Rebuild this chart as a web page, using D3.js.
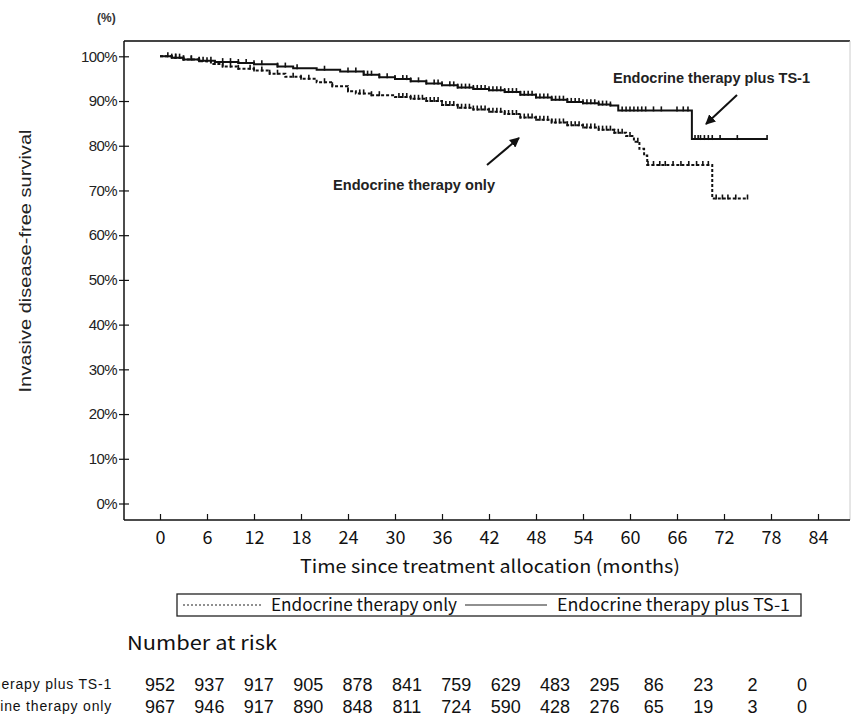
<!DOCTYPE html>
<html lang="en">
<head>
<meta charset="UTF-8">
<title>Invasive disease-free survival</title>
<script src="https://d3js.org/d3.v7.min.js"></script>
<style>
    body { margin: 0; background: #fff; }
    .arial { font-family: "Liberation Sans", Arial, sans-serif; }
    .gothic { font-family: "Noto Sans CJK JP", "Noto Sans", sans-serif; }
</style>
</head>
<body>
<svg width="853" height="720"></svg>
<script>
// Kaplan-Meier steps (months, survival %)
const tsTimes = [0, 1.5, 3, 5, 7, 10, 12, 15, 17, 20, 23, 26, 28, 30, 32, 34, 36, 38, 40, 42, 44, 46, 48, 50, 52, 54, 56, 57.5, 58.5, 67.9];
const tsSurv  = [100, 99.7, 99.3, 99.0, 98.7, 98.5, 98.2, 97.7, 97.3, 97.0, 96.6, 95.9, 95.3, 94.9, 94.4, 93.9, 93.5, 93.0, 92.7, 92.4, 92.0, 91.4, 90.8, 90.3, 89.8, 89.5, 89.2, 89.0, 87.9, 81.5];
const tsEnd = 77.5;

const endoTimes = [0, 1.5, 3, 5, 6.5, 8, 10, 12, 14, 16, 18, 20, 22, 24, 25, 27, 30, 32, 34, 36, 38, 40, 42, 44, 46, 48, 50, 52, 54, 56, 58, 59.5, 60.5, 61.2, 61.8, 62.2, 70.5];
const endoSurv  = [100, 99.7, 99.3, 98.9, 98.3, 97.7, 97.2, 96.8, 96.1, 95.4, 95.0, 94.2, 93.3, 92.2, 91.7, 91.3, 90.9, 90.5, 90.0, 89.1, 88.5, 88.1, 87.6, 87.1, 86.3, 85.8, 85.2, 84.6, 84.1, 83.6, 82.9, 82.2, 80.9, 79.3, 77.8, 75.7, 68.2];
const endoEnd = 75;

// censoring marks (months)
const tsCensor = [1, 1.5, 2, 2.5, 3, 4, 5, 5.5, 6.5, 8, 9, 10, 11, 12, 13, 15, 16, 17.5, 21, 24, 25, 26, 26.5, 27, 28, 29, 30, 31, 31.5, 32, 33, 34, 35, 35.5, 36, 37, 37.5, 38, 38.5, 39, 39.5, 40, 40.5, 41, 41.5, 42, 42.5, 43, 43.5, 44, 44.5, 45, 45.5, 46, 46.5, 47, 47.5, 48, 48.5, 49, 49.5, 50, 50.5, 51, 51.5, 52, 52.5, 53, 53.5, 54, 54.5, 55, 55.5, 56, 56.5, 57, 57.5, 59, 59.5, 60, 60.5, 61, 61.5, 62, 63, 64, 66, 66.8, 67.4, 68.3, 68.7, 69, 69.5, 70, 70.5, 71.5, 73.7, 77.5];
const endoCensor = [2, 3, 4, 5, 6, 7, 8, 9, 10, 11.5, 12, 13, 14, 15, 17, 18, 19, 21, 22, 24, 25.5, 26, 27, 28, 30.5, 31, 31.5, 32, 32.5, 33, 33.5, 34, 34.5, 35, 35.5, 36, 36.5, 37, 37.5, 38, 38.5, 39, 39.5, 40, 40.5, 41, 41.5, 42, 42.5, 43, 43.5, 44, 44.5, 45, 45.5, 46, 46.5, 47, 47.5, 48, 48.5, 49, 49.5, 50, 50.5, 51, 51.5, 52, 52.5, 53, 53.5, 54, 54.5, 55, 55.5, 56, 56.5, 57, 57.5, 58, 58.5, 59, 60, 61, 62.3, 63, 63.8, 64.5, 65.5, 66.5, 67.5, 68.5, 69.3, 70, 71, 71.8, 72.5, 73.5, 75];

const xTicks = [0, 6, 12, 18, 24, 30, 36, 42, 48, 54, 60, 66, 72, 78, 84];
const yTicks = [0, 10, 20, 30, 40, 50, 60, 70, 80, 90, 100];

// number at risk
const riskTimes = [0, 6, 12, 18, 24, 30, 36, 42, 48, 54, 60, 66, 72, 78];
const riskTS   = [952, 937, 917, 905, 878, 841, 759, 629, 483, 295, 86, 23, 2, 0];
const riskEndo = [967, 946, 917, 890, 848, 811, 724, 590, 428, 276, 65, 19, 3, 0];

const svg = d3.select("svg");

const x = d3.scaleLinear().domain([0, 84]).range([160, 818]);
const y = d3.scaleLinear().domain([0, 100]).range([503.5, 56.3]);
const frame = { left: 124, top: 41, right: 850, bottom: 520 };

// frame
svg.append("line").attr("x1", frame.left).attr("x2", frame.right).attr("y1", frame.top).attr("y2", frame.top)
    .attr("stroke", "#444").attr("stroke-width", 2.2);
svg.append("line").attr("x1", frame.right).attr("x2", frame.right).attr("y1", frame.top).attr("y2", frame.bottom)
    .attr("stroke", "#ccc").attr("stroke-width", 1);

// y axis
svg.append("g")
    .attr("transform", `translate(${frame.left},0)`)
    .call(d3.axisLeft(y).tickValues(yTicks).tickFormat(d => d + "%").tickSize(5).tickSizeOuter(0))
    .call(g => g.select(".domain").remove())
    .call(g => g.selectAll(".tick line").attr("x1", 5).attr("x2", -5).attr("stroke", "#111").attr("stroke-width", 1.2))
    .call(g => g.selectAll(".tick text").attr("x", -7).attr("class", "arial")
        .attr("font-size", 15).attr("letter-spacing", -0.6).attr("fill", "#222"));
svg.append("line").attr("x1", frame.left).attr("x2", frame.left).attr("y1", frame.top).attr("y2", frame.bottom)
    .attr("stroke", "#111").attr("stroke-width", 1.5);

// x axis
svg.append("g")
    .attr("transform", `translate(0,${frame.bottom})`)
    .call(d3.axisBottom(x).tickValues(xTicks).tickSize(-6).tickSizeOuter(0))
    .call(g => g.select(".domain").remove())
    .call(g => g.selectAll(".tick line").attr("stroke", "#111").attr("stroke-width", 1.2))
    .call(g => g.selectAll(".tick text").attr("y", 11).attr("class", "gothic")
        .attr("font-size", 18).attr("fill", "#111"));
svg.append("line").attr("x1", frame.left).attr("x2", frame.right).attr("y1", frame.bottom).attr("y2", frame.bottom)
    .attr("stroke", "#111").attr("stroke-width", 1.5);

// labels
svg.append("text").attr("x", 97).attr("y", 22).attr("class", "arial")
    .attr("font-size", 12).attr("font-weight", "bold").attr("fill", "#333").text("(%)");

svg.append("text")
    .attr("transform", "translate(31,261) rotate(-90)")
    .attr("text-anchor", "middle").attr("class", "arial")
    .attr("font-size", 17).attr("textLength", 263).attr("lengthAdjust", "spacingAndGlyphs")
    .attr("fill", "#222").text("Invasive disease-free survival");

svg.append("text").attr("x", 490).attr("y", 573).attr("text-anchor", "middle").attr("class", "gothic")
    .attr("font-size", 18).attr("textLength", 380).attr("lengthAdjust", "spacingAndGlyphs")
    .attr("fill", "#111").text("Time since treatment allocation (months)");

// curves
function stepPoints(times, surv, end) {
    const pts = times.map((t, i) => [t, surv[i]]);
    pts.push([end, surv[surv.length - 1]]);
    return pts;
}
function survAt(times, surv, t) {
    const i = d3.bisectRight(times, t) - 1;
    return surv[Math.max(0, i)];
}
const line = d3.line().x(d => x(d[0])).y(d => y(d[1])).curve(d3.curveStepAfter);

svg.append("path").datum(stepPoints(endoTimes, endoSurv, endoEnd))
    .attr("fill", "none").attr("stroke", "#111").attr("stroke-width", 2)
    .attr("stroke-dasharray", "3,2").attr("d", line);
svg.append("path").datum(stepPoints(tsTimes, tsSurv, tsEnd))
    .attr("fill", "none").attr("stroke", "#111").attr("stroke-width", 2).attr("d", line);

function censorMarks(list, times, surv) {
    svg.append("g").selectAll("line").data(list).join("line")
        .attr("x1", d => x(d)).attr("x2", d => x(d))
        .attr("y1", d => y(survAt(times, surv, d)) - 4)
        .attr("y2", d => y(survAt(times, surv, d)) + 1)
        .attr("stroke", "#111").attr("stroke-width", 1.6);
}
censorMarks(tsCensor, tsTimes, tsSurv);
censorMarks(endoCensor, endoTimes, endoSurv);

// annotations with arrows
svg.append("defs").append("marker")
    .attr("id", "head").attr("viewBox", "0 0 10 10").attr("refX", 9).attr("refY", 5)
    .attr("markerWidth", 5).attr("markerHeight", 5).attr("orient", "auto")
    .append("path").attr("d", "M0,0 L10,5 L0,10 z").attr("fill", "#111");

svg.append("text").attr("x", 613).attr("y", 83).attr("class", "arial")
    .attr("font-size", 14).attr("font-weight", "bold").attr("textLength", 197).attr("lengthAdjust", "spacingAndGlyphs")
    .attr("fill", "#222").text("Endocrine therapy plus TS-1");
svg.append("line").attr("x1", 737).attr("y1", 95).attr("x2", 706).attr("y2", 124)
    .attr("stroke", "#111").attr("stroke-width", 2).attr("marker-end", "url(#head)");

svg.append("text").attr("x", 333).attr("y", 190).attr("class", "arial")
    .attr("font-size", 14).attr("font-weight", "bold").attr("textLength", 162).attr("lengthAdjust", "spacingAndGlyphs")
    .attr("fill", "#222").text("Endocrine therapy only");
svg.append("line").attr("x1", 487).attr("y1", 165).attr("x2", 519).attr("y2", 138)
    .attr("stroke", "#111").attr("stroke-width", 2).attr("marker-end", "url(#head)");

// legend
const lg = svg.append("g");
lg.append("rect").attr("x", 177).attr("y", 594).attr("width", 624).attr("height", 22)
    .attr("fill", "none").attr("stroke", "#222").attr("stroke-width", 1.3);
lg.append("line").attr("x1", 183).attr("x2", 263).attr("y1", 605).attr("y2", 605)
    .attr("stroke", "#222").attr("stroke-width", 1.2).attr("stroke-dasharray", "2,2");
lg.append("text").attr("x", 271).attr("y", 611).attr("class", "gothic")
    .attr("font-size", 17).attr("textLength", 186).attr("lengthAdjust", "spacingAndGlyphs")
    .attr("fill", "#111").text("Endocrine therapy only");
lg.append("line").attr("x1", 465).attr("x2", 547).attr("y1", 605).attr("y2", 605)
    .attr("stroke", "#222").attr("stroke-width", 1.2);
lg.append("text").attr("x", 557).attr("y", 611).attr("class", "gothic")
    .attr("font-size", 17).attr("textLength", 233).attr("lengthAdjust", "spacingAndGlyphs")
    .attr("fill", "#111").text("Endocrine therapy plus TS-1");

// number at risk table
svg.append("text").attr("x", 127).attr("y", 650).attr("class", "gothic")
    .attr("font-size", 19).attr("textLength", 150).attr("lengthAdjust", "spacingAndGlyphs")
    .attr("fill", "#111").text("Number at risk");

const rx = d3.scalePoint().domain(riskTimes).range([160, 802]);
const rows = [
    { label: "Endocrine therapy plus TS-1", values: riskTS, y: 691 },
    { label: "Endocrine therapy only", values: riskEndo, y: 713 }
];
rows.forEach(r => {
    svg.append("text").attr("x", 112).attr("y", r.y - 2).attr("text-anchor", "end").attr("class", "arial")
        .attr("font-size", 14).attr("letter-spacing", 0.8).attr("fill", "#111").text(r.label);
    svg.append("g").selectAll("text").data(r.values).join("text")
        .attr("x", (d, i) => rx(riskTimes[i])).attr("y", r.y)
        .attr("text-anchor", "middle").attr("class", "arial")
        .attr("font-size", 18).attr("fill", "#111").text(d => d);
});
</script>
</body>
</html>
